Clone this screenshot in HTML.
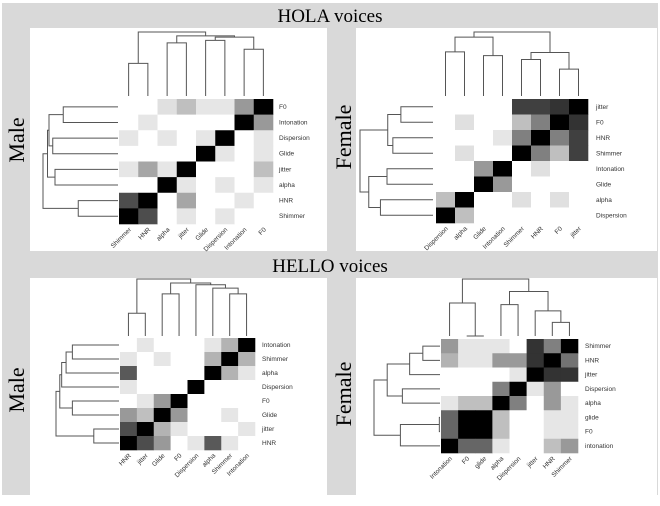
<!DOCTYPE html>
<html><head><meta charset="utf-8">
<style>
html,body{margin:0;padding:0;background:#fff;}
svg{display:block;}
</style></head>
<body>
<svg id="fig" width="660" height="506" viewBox="0 0 660 506" xmlns="http://www.w3.org/2000/svg">
<rect x="2" y="3" width="656" height="492" fill="#d9d9d9"/>
<rect x="30" y="28" width="297" height="223" fill="#fff"/>
<rect x="356" y="28" width="301" height="223" fill="#fff"/>
<rect x="30" y="278" width="297" height="217" fill="#fff"/>
<rect x="356" y="278" width="301" height="217" fill="#fff"/>
<text x="330" y="22" font-family="Liberation Serif, serif" font-size="19" text-anchor="middle">HOLA voices</text>
<text x="330" y="272" font-family="Liberation Serif, serif" font-size="19" text-anchor="middle">HELLO voices</text>
<text transform="translate(24,140) rotate(-90)" font-family="Liberation Serif, serif" font-size="22" text-anchor="middle">Male</text>
<text transform="translate(351,137) rotate(-90)" font-family="Liberation Serif, serif" font-size="22" text-anchor="middle">Female</text>
<text transform="translate(24,390) rotate(-90)" font-family="Liberation Serif, serif" font-size="22" text-anchor="middle">Male</text>
<text transform="translate(351,394) rotate(-90)" font-family="Liberation Serif, serif" font-size="22" text-anchor="middle">Female</text>
</svg>
<script>
// ---- HOLA Male ----
const p1Cols = ["Shimmer","HNR","alpha","jitter","Glide","Dispersion","Intonation","F0"];
const p1Rows = ["F0","Intonation","Dispersion","Glide","jitter","alpha","HNR","Shimmer"];
const p1Values = [
 [0,0,.12,.25,.1,.1,.4,1],
 [0,.1,0,0,0,0,1,.4],
 [.1,0,.1,0,.1,1,0,.1],
 [0,0,0,0,1,.1,0,.1],
 [.1,.35,.1,1,0,0,0,.25],
 [0,0,1,.1,0,.1,0,.1],
 [.7,1,0,.35,0,0,.1,0],
 [1,.7,0,.1,0,.1,0,0]];
const p1ColMerge = [[-1,-2,.51],[-3,-4,.83],[-5,-6,.87],[-7,-8,.73],[3,4,.92],[2,5,.94],[1,6,1]];
const p1RowMerge = [[-1,-2,.73],[-3,-4,.87],[-5,-6,.84],[-7,-8,.53],[1,2,.92],[5,3,.94],[6,4,1]];
// ---- HOLA Female ----
const p2Cols = ["Dispersion","alpha","Glide","Intonation","Shimmer","HNR","F0","jitter"];
const p2Rows = ["jitter","F0","HNR","Shimmer","Intonation","Glide","alpha","Dispersion"];
const p2Values = [
 [0,0,0,0,.75,.75,.8,1],
 [0,.12,0,0,.25,.5,1,.8],
 [0,0,0,.1,.5,1,.5,.75],
 [0,.12,0,0,1,.5,.25,.75],
 [0,0,.4,1,0,.12,0,0],
 [0,0,1,.4,0,0,0,0],
 [.25,1,0,0,.12,0,.12,0],
 [1,.25,0,0,0,0,0,0]];
const p2ColMerge = [[-1,-2,.69],[-3,-4,.63],[-5,-6,.57],[-7,-8,.42],[1,2,.92],[3,4,.68],[5,6,1]];
const p2RowMerge = [[-1,-2,.44],[-3,-4,.55],[1,2,.62],[-5,-6,.63],[-7,-8,.72],[4,5,.88],[3,6,1]];
// ---- HELLO Male ----
const p3Cols = ["HNR","jitter","Glide","F0","Dispersion","alpha","Shimmer","Intonation"];
const p3Rows = ["Intonation","Shimmer","alpha","Dispersion","F0","Glide","jitter","HNR"];
const p3Values = [
 [0,.1,0,0,0,.1,.3,1],
 [.1,0,.1,0,0,.3,1,.3],
 [.65,0,0,0,0,1,.3,.1],
 [.1,0,0,0,1,0,0,0],
 [0,.1,.4,1,0,0,0,0],
 [.4,.25,1,.4,0,0,.1,0],
 [.7,1,.3,.1,0,0,0,.1],
 [1,.7,.4,0,.1,.65,.1,0]];
const p3ColMerge = [[-1,-2,.4],[-3,-4,.74],[-7,-8,.74],[-6,3,.84],[-5,4,.9],[2,5,.93],[1,6,1]];
const p3RowMerge = [[-1,-2,.74],[-3,1,.84],[-4,2,.91],[-5,-6,.74],[3,4,.94],[-7,-8,.4],[5,6,1]];
// ---- HELLO Female ----
const p4Cols = ["Intonation","F0","glide","alpha","Dispersion","jitter","HNR","Shimmer"];
const p4Rows = ["Shimmer","HNR","jitter","Dispersion","alpha","glide","F0","intonation"];
const p4Values = [
 [.4,.1,.1,.1,0,.8,.5,1],
 [.3,.1,.1,.4,.4,.8,1,.55],
 [0,0,0,0,.1,1,.8,.8],
 [0,0,0,.5,1,.1,.4,0],
 [.1,.25,.25,1,.5,0,.4,.1],
 [.6,1,1,.25,0,0,.1,.1],
 [.6,1,1,.25,0,0,.1,.1],
 [1,.6,.6,.1,0,0,.25,.4]];
const p4ColMerge = [[-2,-3,0],[-1,1,.58],[-4,-5,.55],[-7,-8,.24],[-6,4,.44],[3,5,.78],[2,6,1]];
const p4RowMerge = [[-1,-2,.26],[-3,1,.46],[-4,-5,.57],[2,3,.8],[-6,-7,.01],[-8,5,.6],[4,6,1]];

const NS = "http://www.w3.org/2000/svg";
const svg = document.getElementById("fig");
function mk(tag, attrs){const e=document.createElementNS(NS,tag);for(const k in attrs)e.setAttribute(k,attrs[k]);svg.appendChild(e);return e;}

function dendro(merges, leafPos, leafBase, span, vertical, pid){
  // vertical=true: top dendrogram (leaves along x, grows upward)
  const pos=[], hgt=[];
  function childInfo(c){ if(c<0) return [leafPos(-c-1), 0]; return [pos[c-1], hgt[c-1]]; }
  merges.forEach((m,i)=>{
    const a=childInfo(m[0]), b=childInfo(m[1]), h=m[2];
    const toC = v => leafBase - v*span;
    let d;
    if(vertical){
      d=`M${a[0]},${toC(a[1])}V${toC(h)}H${b[0]}V${toC(b[1])}`;
    } else {
      d=`M${toC(a[1])},${a[0]}H${toC(h)}V${b[0]}H${toC(b[1])}`;
    }
    const p=mk("path",{d:d,fill:"none",stroke:"#555","stroke-width":"1"});
    
    
    pos.push((a[0]+b[0])/2); hgt.push(h);
  });
}

function panel(pid, cols, rows, values, colMerge, rowMerge, g){
  const cw=(g.x1-g.x0)/cols.length, rh=(g.y1-g.y0)/rows.length;
  const xc=i=>g.x0+cw*(i+0.5), yc=j=>g.y0+rh*(j+0.5);
  values.forEach((row,j)=>row.forEach((v,i)=>{
    const c=Math.round(255*(1-v));
    const r=mk("rect",{x:g.x0+cw*i,y:g.y0+rh*j,width:cw+0.3,height:rh+0.3,fill:`rgb(${c},${c},${c})`});
    
    
  }));
  rows.forEach((t,j)=>{
    const e=mk("text",{x:g.lx,y:yc(j)+2,"font-family":"Liberation Sans, sans-serif","font-size":"6.5",fill:"#333"});
    e.textContent=t;
    
    
  });
  cols.forEach((t,i)=>{
    const e=mk("text",{transform:`translate(${xc(i)+3},${g.y1+6}) rotate(-45)`,"text-anchor":"end","font-family":"Liberation Sans, sans-serif","font-size":"6.5",fill:"#333"});
    e.textContent=t;
    
    
  });
  dendro(colMerge, xc, g.ty, g.tspan, true, pid);
  dendro(rowMerge, yc, g.lxl, g.lspan, false, pid);
}

panel("hola-male", p1Cols,p1Rows,p1Values,p1ColMerge,p1RowMerge,{x0:119,x1:273,y0:99,y1:224,lx:279,ty:96,tspan:64,lxl:118,lspan:75});
panel("hola-female", p2Cols,p2Rows,p2Values,p2ColMerge,p2RowMerge,{x0:436,x1:588,y0:99,y1:223,lx:596,ty:96,tspan:64,lxl:433,lspan:73});
panel("hello-male", p3Cols,p3Rows,p3Values,p3ColMerge,p3RowMerge,{x0:120,x1:255,y0:338,y1:450,lx:262,ty:336,tspan:57,lxl:119,lspan:63});
panel("hello-female", p4Cols,p4Rows,p4Values,p4ColMerge,p4RowMerge,{x0:441,x1:578,y0:339,y1:453,lx:585,ty:336,tspan:57,lxl:440,lspan:66});
</script>
</body></html>
